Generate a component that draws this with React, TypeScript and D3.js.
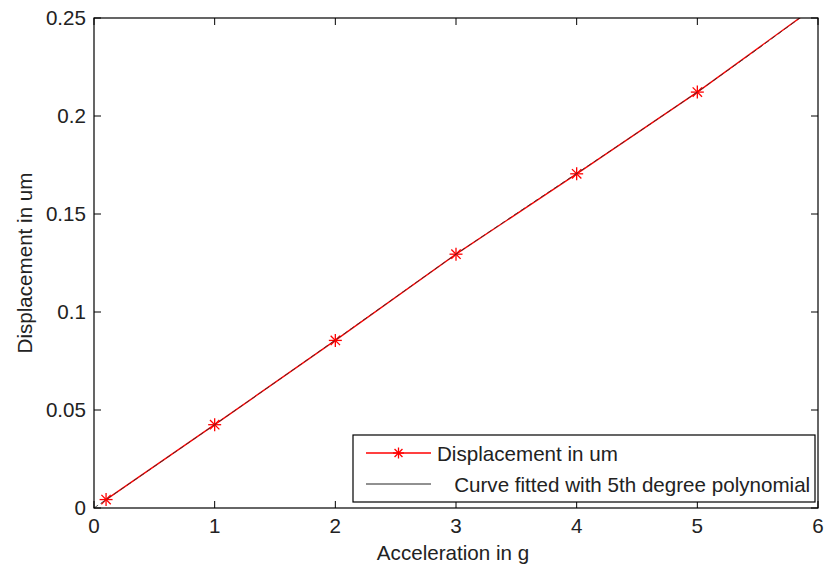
import * as d3 from 'd3';

// values
const accel = [0.1, 1, 2, 3, 4, 5, 6];
const displacement = [0.0043, 0.0425, 0.0855, 0.1295, 0.1705, 0.2122, 0.2568];

const fitAccel = [0, 0.5, 1, 1.5, 2, 2.5, 3, 3.5, 4, 4.5, 5, 5.5, 6];
const fitDisp = [0, 0.0212, 0.0425, 0.064, 0.0857, 0.1076, 0.1295, 0.1502, 0.1707, 0.1913, 0.2122, 0.2342, 0.2568];

const xTicks = [0, 1, 2, 3, 4, 5, 6];
const yTicks = [0, 0.05, 0.1, 0.15, 0.2, 0.25];
const yTickLabels = ['0', '0.05', '0.1', '0.15', '0.2', '0.25'];

const seriesNames = ['Displacement in um', '   Curve fitted with 5th degree polynomial'];

const W = 824;
const H = 570;
const m = { left: 94, right: 818, top: 18, bottom: 508 };
const font = '"Liberation Sans", Arial, sans-serif';
const FS = 20.6;
const TICK = 7;

const Star = ({ x, y, r = 6 }: { x: number; y: number; r?: number }) => {
    const d = r * 0.72;
    return (
        <g stroke="#ff0000" strokeWidth={1.3}>
            <line x1={x - r} y1={y} x2={x + r} y2={y} />
            <line x1={x} y1={y - r} x2={x} y2={y + r} />
            <line x1={x - d} y1={y - d} x2={x + d} y2={y + d} />
            <line x1={x - d} y1={y + d} x2={x + d} y2={y - d} />
        </g>
    );
};

const App = () => {
    const x = d3.scaleLinear().domain([0, 6]).range([m.left, m.right]);
    const y = d3.scaleLinear().domain([0, 0.25]).range([m.bottom, m.top]);

    const line = d3.line<[number, number]>()
        .x(d => x(d[0]))
        .y(d => y(d[1]));

    const dataPts = accel.map((a, i) => [a, displacement[i]] as [number, number]);
    const fitPts = fitAccel.map((a, i) => [a, fitDisp[i]] as [number, number]);

    const lg = { x0: 353, y0: 435, x1: 815, y1: 502 };

    return (
        <svg width={W} height={H} style={{ position: 'absolute', left: 0, top: 0, background: '#fff' }}
            fontFamily={font}>
            <defs>
                <clipPath id="plot">
                    <rect x={m.left} y={m.top} width={m.right - m.left} height={m.bottom - m.top} />
                </clipPath>
            </defs>
            <rect x={0} y={0} width={W} height={H} fill="#fff" />

            <g clipPath="url(#plot)">
                <path d={line(dataPts) ?? ''} fill="none" stroke="#ff0000" strokeWidth={1.4} />
                {dataPts.map((p, i) => <Star key={i} x={x(p[0])} y={y(p[1])} r={6.5} />)}
                <path d={line(fitPts) ?? ''} fill="none" stroke="#333" strokeWidth={1}
                    strokeDasharray="5 3" strokeOpacity={0.85} />
            </g>

            {/* axes box */}
            <rect x={m.left} y={m.top} width={m.right - m.left} height={m.bottom - m.top}
                fill="none" stroke="#000" strokeWidth={1.2} />

            {xTicks.map(t => (
                <g key={'x' + t}>
                    <line x1={x(t)} x2={x(t)} y1={m.bottom} y2={m.bottom - TICK} stroke="#000" />
                    <line x1={x(t)} x2={x(t)} y1={m.top} y2={m.top + TICK} stroke="#000" />
                    <text x={x(t)} y={m.bottom + 25} fontSize={FS} textAnchor="middle" fill="#222">{t}</text>
                </g>
            ))}
            {yTicks.map((t, i) => (
                <g key={'y' + t}>
                    <line x1={m.left} x2={m.left + TICK} y1={y(t)} y2={y(t)} stroke="#000" />
                    <line x1={m.right} x2={m.right - TICK} y1={y(t)} y2={y(t)} stroke="#000" />
                    <text x={m.left - 8} y={y(t)} dy="0.35em" fontSize={FS} textAnchor="end" fill="#222">{yTickLabels[i]}</text>
                </g>
            ))}

            <text x={(m.left + m.right) / 2 - 3} y={560} fontSize={FS} textAnchor="middle" fill="#222">Acceleration in g</text>
            <text transform={`translate(32,${(m.top + m.bottom) / 2}) rotate(-90)`} fontSize={FS}
                textAnchor="middle" fill="#222">Displacement in um</text>

            {/* legend */}
            <rect x={lg.x0} y={lg.y0} width={lg.x1 - lg.x0} height={lg.y1 - lg.y0}
                fill="#fff" stroke="#000" strokeWidth={1.2} />
            <line x1={366} x2={431} y1={453} y2={453} stroke="#ff0000" strokeWidth={1.4} />
            <Star x={398.5} y={453} r={5.5} />
            <text x={437} y={460.5} fontSize={FS} fill="#222" style={{ whiteSpace: 'pre' }}>{seriesNames[0]}</text>
            <line x1={366} x2={431} y1={484} y2={484} stroke="#222" strokeWidth={1} />
            <text x={437} y={491.5} fontSize={FS} fill="#222" style={{ whiteSpace: 'pre' }}>{seriesNames[1]}</text>
        </svg>
    );
};

export default App;
